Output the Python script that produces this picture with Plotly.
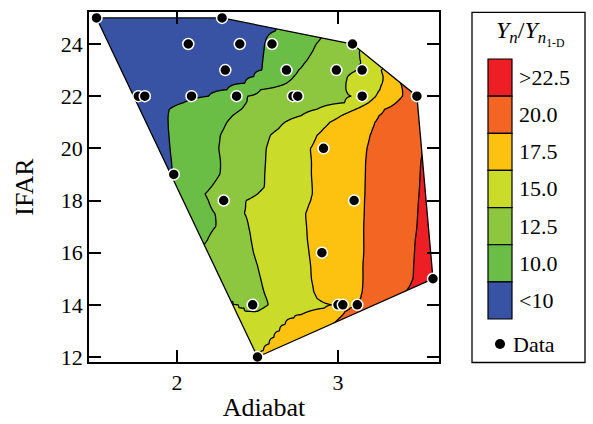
import numpy as np
import plotly.graph_objects as go

# Measured design points
adiabat = [1.50, 2.28, 2.07, 2.39, 2.59, 3.09, 2.30, 2.68, 2.99, 3.15,
           1.76, 1.80, 2.09, 2.37, 2.72, 2.75, 3.15, 3.49, 2.91, 1.98,
           2.29, 3.10, 2.90, 2.47, 3.00, 3.03, 3.12, 3.59, 2.50]
ifar = [25, 25, 24, 24, 24, 24, 23, 23, 23, 23,
        22, 22, 22, 22, 22, 22, 22, 22, 20, 19,
        18, 18, 16, 14, 14, 14, 14, 15, 12]

# Yield-ratio field: for each IFAR row, the Adiabat where each level is crossed
levels = [10.0, 12.5, 15.0, 17.5, 20.0, 22.5]
row_y = [11.5, 12.0, 12.25, 12.5, 12.75, 13.0, 13.25, 13.5, 13.625, 13.75,
         13.875, 14.0, 14.125, 14.25, 14.5,
         15.0, 15.5, 16.0, 16.5, 17.0, 17.5, 18.0, 18.25, 18.5, 19.0,
         19.5, 20.0, 20.5, 20.75, 21.0, 21.25, 21.5, 21.75, 22.0, 22.25,
         22.5, 22.75, 23.0, 23.25, 23.5, 23.75, 24.0, 24.5, 25.0, 25.5]
x_10 = [None, None, None, None, None, None, None, None, None, None,
        None, None, None, 2.00, 1.98,
        1.95, 1.92, 1.90, 1.88, 1.86, 1.85, 1.85, 1.86, 1.90, 1.975,
        1.966, 1.958, 1.950, 1.947, 1.945, 1.945, 1.953, 2.04, 2.195, 2.31,
        2.42, 2.475, 2.525, 2.532, 2.535, 2.54, 2.545, 2.61, 2.70, 2.75]
x_12_5 = [None, None, None, None, None, None, None, None, None, None,
          None, None, None, 2.20, 2.19,
          2.17, 2.15, 2.13, 2.19, 2.24, 2.235, 2.195, 2.175, 2.21, 2.265,
          2.27, 2.26, 2.27, 2.29, 2.31, 2.345, 2.40, 2.43, 2.44, 2.52,
          2.68, 2.725, 2.755, 2.79, 2.82, 2.845, 2.865, 2.93, 3.00, 3.05]
x_15 = [None, None, None, None, None, None, None, None, None, 2.50,
        2.535, 2.565, 2.562, 2.555, 2.54,
        2.52, 2.50, 2.475, 2.46, 2.445, 2.42, 2.43, 2.50, 2.54, 2.545,
        2.55, 2.555, 2.58, 2.63, 2.67, 2.77, 2.87, 3.04, 3.08, 3.05,
        3.05, 3.06, 3.12, 3.14, 3.135, 3.135, 3.20, 3.25, 3.30, 3.35]
x_17_5 = [2.45, 2.50, 2.535, 2.57, 2.60, 2.635, 2.67, 2.725, 2.77, 2.82,
          2.915, 2.96, 2.90, 2.87, 2.85,
          2.835, 2.83, 2.82, 2.81, 2.805, 2.80, 2.83, 2.84, 2.84, 2.835,
          2.835, 2.83, 2.87, 2.91, 2.95, 3.02, 3.11, 3.19, 3.235, 3.26,
          3.275, 3.28, 3.27, 3.30, 3.33, 3.36, 3.40, 3.45, 3.50, 3.55]
x_20 = [2.85, 2.88, 2.89, 2.90, 2.915, 2.93, 2.965, 3.01, 3.03, 3.045,
        3.075, 3.105, 3.125, 3.14, 3.15,
        3.155, 3.155, 3.16, 3.16, 3.16, 3.163, 3.165, 3.167, 3.168, 3.17,
        3.172, 3.18, 3.20, 3.215, 3.23, 3.255, 3.29, 3.36, 3.40, 3.40,
        3.39, 3.42, 3.45, 3.48, 3.50, 3.52, 3.54, 3.57, 3.60, 3.62]
x_22_5 = [3.20, 3.22, 3.235, 3.25, 3.265, 3.28, 3.29, 3.30, 3.31, 3.32,
          3.335, 3.35, 3.37, 3.39, 3.42,
          3.465, 3.47, 3.475, 3.48, 3.49, 3.495, 3.50, 3.503, 3.506, 3.51,
          3.515, 3.528, 3.545, 3.55, 3.555, 3.56, 3.565, 3.57, 3.575, 3.58,
          3.585, 3.59, 3.60, 3.605, 3.61, 3.615, 3.62, 3.63, 3.64, 3.65]

# Local low under the point at (2.47, 14): inner 15 crossing and minimum
dip_y = [13.75, 13.875, 14.0, 14.125]
dip_left = [2.455, 2.416, 2.38, 2.345]
dip_x = [2.478, 2.475, 2.47, 2.47]
dip_z = [14.8, 14.55, 14.3, 14.35]

band_colors = ["#3953a4", "#6abd45", "#8dc63f", "#cbdb2a",
               "#fdc20f", "#f26522", "#ed1f24"]
band_labels = ["<10", "10.0", "12.5", "15.0", "17.5", "20.0", ">22.5"]

# ---- build the gridded field ----
gx = np.linspace(1.2, 3.9, 541)
cols = [x_10, x_12_5, x_15, x_17_5, x_20, x_22_5]
z = []
for i, y in enumerate(row_y):
    kx = [1.2]
    kz = [7.0 if x_10[i] is not None else 15.3]
    for lev, col in zip(levels, cols):
        cx = col[i]
        if cx is None:
            continue
        if lev == 15.0 and y in dip_y:
            j = dip_y.index(y)
            kx += [dip_left[j], dip_x[j]]
            kz += [15.0, dip_z[j]]
        kx.append(cx)
        kz.append(lev)
    kx.append(3.9)
    kz.append(25.0)
    z.append(np.interp(gx, kx, kz))
z = np.array(z)


def convex_hull(pts):
    pts = sorted(set(pts))

    def cross(o, a, b):
        return (a[0] - o[0]) * (b[1] - o[1]) - (a[1] - o[1]) * (b[0] - o[0])

    lower, upper = [], []
    for p in pts:
        while len(lower) >= 2 and cross(lower[-2], lower[-1], p) <= 0:
            lower.pop()
        lower.append(p)
    for p in reversed(pts):
        while len(upper) >= 2 and cross(upper[-2], upper[-1], p) <= 0:
            upper.pop()
        upper.append(p)
    return lower[:-1] + upper[:-1]


hull = convex_hull(list(zip(adiabat, ifar)))  # counter-clockwise

# white cover outside the data hull (outer box CCW, hull traversed CW)
box = [(1.0, 10.5), (4.2, 10.5), (4.2, 26.5), (1.0, 26.5), (1.0, 10.5)]
hole = [hull[0]] + hull[::-1]
mask = box + hole + [box[0]]

fig = go.Figure()
fig.add_trace(go.Contour(
    x=gx, y=row_y, z=z,
    autocontour=False,
    contours=dict(start=10, end=22.5, size=2.5, coloring="fill"),
    colorscale=[[k / 6, c] for k, c in enumerate(band_colors)],
    line=dict(color="black", width=1.3, smoothing=1.3),
    showscale=False, hoverinfo="skip",
))
fig.add_trace(go.Scatter(
    x=[p[0] for p in mask], y=[p[1] for p in mask],
    mode="lines", fill="toself", fillcolor="white",
    line=dict(width=0, color="white"), hoverinfo="skip",
))
hx = [p[0] for p in hull] + [hull[0][0]]
hy = [p[1] for p in hull] + [hull[0][1]]
fig.add_trace(go.Scatter(x=hx, y=hy, mode="lines",
                         line=dict(color="black", width=1.3), hoverinfo="skip"))
fig.add_trace(go.Scatter(
    x=adiabat, y=ifar, mode="markers",
    marker=dict(size=11, color="black", line=dict(color="white", width=1.5)),
    cliponaxis=False, name="Data",
))

# ---- axes ----
L, R, T, B = 89, 439, 12, 362
W, H = R - L, B - T
axis_style = dict(ticks="inside", ticklen=12, tickwidth=1.5, tickcolor="black",
                  showline=True, linewidth=1.5, linecolor="black",
                  mirror="allticks", showgrid=False, zeroline=False,
                  automargin=False, tickfont=dict(size=22))
fig.update_xaxes(range=[1.4534, 3.6273], tickvals=[2, 3],
                 title=dict(text="Adiabat", standoff=4), **axis_style)
fig.update_yaxes(range=[11.808, 25.227], tickvals=[12, 14, 16, 18, 20, 22, 24],
                 title=dict(text="IFAR", standoff=20), **axis_style)


def px(xp):
    return (xp - L) / W


def py(yp):
    return (B - yp) / H


shapes = [dict(type="rect", xref="paper", yref="paper",
               x0=px(472), x1=px(585), y0=py(362.5), y1=py(12.3),
               line=dict(color="black", width=1.3), fillcolor="white", layer="below")]
annotations = []
top, step = 59.0, 37.14
for k, (c, lab) in enumerate(zip(band_colors[::-1], band_labels[::-1])):
    y0 = top + k * step
    shapes.append(dict(type="rect", xref="paper", yref="paper",
                       x0=px(488), x1=px(512), y0=py(y0 + step), y1=py(y0),
                       fillcolor=c, line=dict(color="black", width=1.2)))
    annotations.append(dict(xref="paper", yref="paper", x=px(517), y=py(y0 + step / 2),
                            text=lab, showarrow=False, xanchor="left", yanchor="middle",
                            font=dict(size=22)))
shapes.append(dict(type="circle", xref="paper", yref="paper",
                   x0=px(495), x1=px(505), y0=py(349), y1=py(339),
                   fillcolor="black", line=dict(color="black", width=0)))
annotations.append(dict(xref="paper", yref="paper", x=px(511), y=py(344),
                        text="Data", showarrow=False, xanchor="left", yanchor="middle",
                        font=dict(size=22)))
annotations.append(dict(xref="paper", yref="paper", x=px(530), y=py(34),
                        text="<i>Y<sub>n</sub></i>/<i>Y</i><sub><i>n</i><sub>1-D</sub></sub>",
                        showarrow=False, xanchor="center", yanchor="middle",
                        font=dict(size=24)))

fig.update_layout(
    width=593, height=424,
    margin=dict(l=L, r=593 - R, t=T, b=424 - B),
    paper_bgcolor="white", plot_bgcolor="white",
    showlegend=False,
    font=dict(family="Liberation Serif", size=22, color="black"),
    shapes=shapes, annotations=annotations,
)

fig.write_html("out.html")
